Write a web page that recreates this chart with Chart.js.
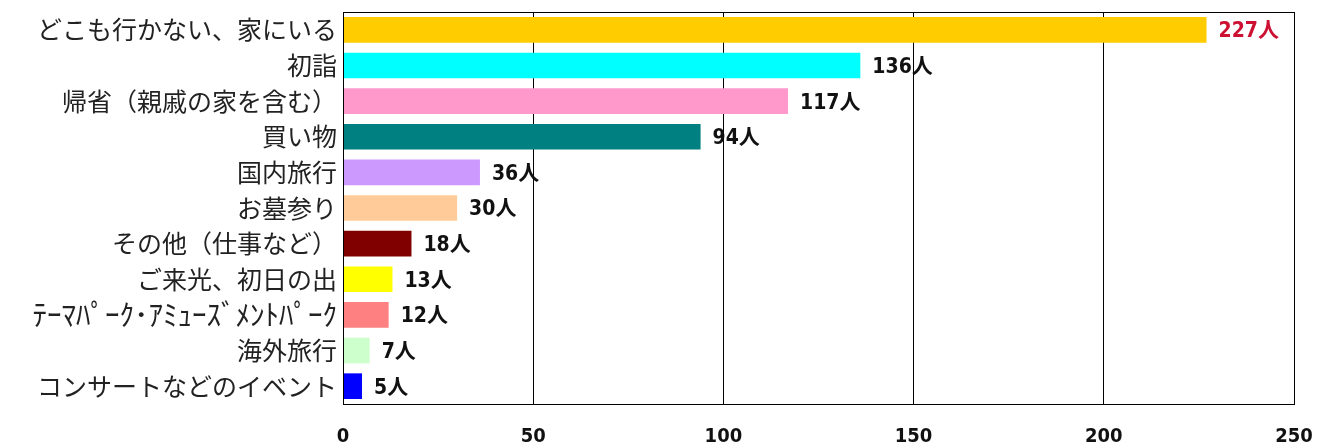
<!DOCTYPE html>
<html>
<head>
<meta charset="utf-8">
<script src="https://cdn.jsdelivr.net/npm/chart.js@4.4.1/dist/chart.umd.min.js"></script>
<style>
  html, body { margin: 0; padding: 0; background: #fff; }
  #wrap { width: 1333px; height: 446px; }
</style>
</head>
<body>
<div id="wrap"><canvas id="myChart"></canvas></div>
<script>
// 項目と人数
const categories = [
  "どこも行かない、家にいる",
  "初詣",
  "帰省（親戚の家を含む）",
  "買い物",
  "国内旅行",
  "お墓参り",
  "その他（仕事など）",
  "ご来光、初日の出",
  "ﾃｰﾏﾊﾟｰｸ･ｱﾐｭｰｽﾞﾒﾝﾄﾊﾟｰｸ",
  "海外旅行",
  "コンサートなどのイベント"
];
const values = [227, 136, 117, 94, 36, 30, 18, 13, 12, 7, 5];
const barColors = [
  "#ffcc00", "#00ffff", "#ff99cc", "#008080", "#cc99ff", "#ffcc99",
  "#800000", "#ffff00", "#ff8080", "#ccffcc", "#0000ff"
];
const unit = "人";
const xTicks = [0, 50, 100, 150, 200, 250];

const numFamily = "'DejaVu Sans Condensed', 'Noto Sans CJK JP', sans-serif";
const jpFamily = "'Noto Sans CJK JP', sans-serif";

// 数値ラベル
const valueLabels = {
  id: "valueLabels",
  afterDatasetsDraw(chart) {
    const ctx = chart.ctx;
    const meta = chart.getDatasetMeta(0);
    ctx.save();
    ctx.font = "bold 21px " + numFamily;
    ctx.textAlign = "left";
    ctx.textBaseline = "middle";
    meta.data.forEach((bar, i) => {
      ctx.fillStyle = i === 0 ? "#cc1133" : "#111";
      ctx.fillText(values[i] + unit, bar.x + 12, bar.y + 2);
    });
    ctx.restore();
  }
};

// グラフ枠
const plotBorder = {
  id: "plotBorder",
  afterDraw(chart) {
    const a = chart.chartArea;
    const ctx = chart.ctx;
    ctx.save();
    ctx.strokeStyle = "#000";
    ctx.lineWidth = 1;
    ctx.strokeRect(a.left + 0.5, a.top + 0.5, a.right - a.left, a.bottom - a.top);
    ctx.restore();
  }
};

const data = {
  labels: categories,
  datasets: [
    {
      data: values,
      backgroundColor: barColors,
      borderWidth: 0,
      barPercentage: 0.72,
      categoryPercentage: 1.0
    }
  ]
};

const config = {
  type: "bar",
  data: data,
  options: {
    indexAxis: "y",
    responsive: true,
    maintainAspectRatio: false,
    animation: false,
    layout: { padding: { top: 12, right: 39, left: 0, bottom: 0 } },
    plugins: {
      legend: { display: false },
      tooltip: { enabled: false }
    },
    scales: {
      x: {
        min: 0,
        max: 250,
        afterBuildTicks: (scale) => {
          scale.ticks = xTicks.map((v) => ({ value: v }));
        },
        afterFit: (scale) => {
          scale.height = 42;
          scale.paddingLeft = 0;
          scale.paddingRight = 0;
        },
        grid: { color: "#000", lineWidth: 1, drawTicks: false },
        border: { color: "#000", width: 1 },
        ticks: {
          padding: 21,
          color: "#111",
          font: { family: numFamily, size: 20, weight: "bold" }
        }
      },
      y: {
        afterFit: (scale) => {
          scale.width = 343;
          scale.paddingTop = 0;
          scale.paddingBottom = 0;
        },
        grid: { display: false, drawTicks: false },
        border: { color: "#000", width: 1 },
        ticks: {
          autoSkip: false,
          padding: 6,
          color: "#222",
          font: (c) => ({ family: jpFamily, size: c.index === 8 ? 29 : 25 })
        }
      }
    }
  },
  plugins: [valueLabels, plotBorder]
};

const myChart = new Chart(document.getElementById("myChart"), config);
</script>
</body>
</html>
